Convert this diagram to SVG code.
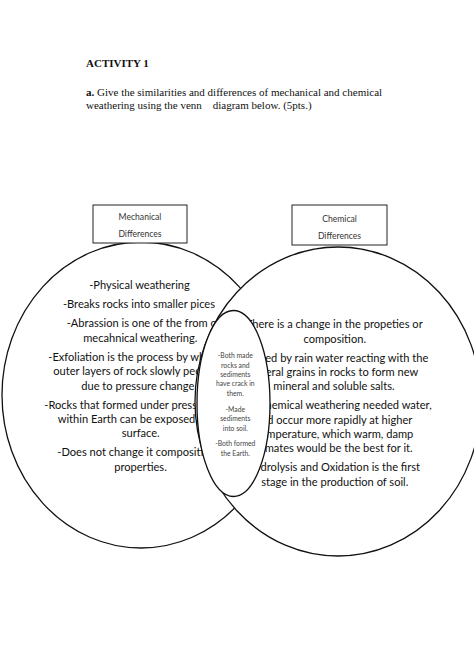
<svg xmlns="http://www.w3.org/2000/svg" width="474" height="670" viewBox="0 0 474 670">
<style>
.hdr{font-family:"Liberation Serif","Times New Roman",serif;font-size:11px;fill:#111}
.b{font-weight:bold}
.box{fill:#fff;stroke:#222;stroke-width:1}
.lbl{font-family:Lato,"Open Sans",sans-serif;font-size:8.6px;fill:#333;text-anchor:middle}
.circ{fill:#fff;stroke:#111;stroke-width:1.3}
.t{font-family:Lato,"Open Sans",sans-serif;font-size:11.1px;fill:#111}
.m{text-anchor:middle}
.e{text-anchor:end}
.s{font-family:Lato,"Open Sans",sans-serif;font-size:6.8px;fill:#444;text-anchor:middle}
</style>
<rect width="474" height="670" fill="#fff"/>
<g id="header">
<text class="hdr b" x="86" y="67">ACTIVITY 1</text>
<text class="hdr" x="86" y="96"><tspan class="b">a.</tspan> Give the similarities and differences of mechanical and chemical</text>
<text class="hdr" x="86" y="109">weathering using the venn<tspan x="212.7">diagram below. (5pts.)</tspan></text>
</g>
<g id="mechanical">
<ellipse class="circ" cx="141" cy="395" rx="139" ry="153"/>
<g class="t">
<text class="m" x="139.5" y="289">-Physical weathering</text>
<text class="m" x="139" y="308">-Breaks rocks into smaller pices</text>
<text x="66.7" y="327">-Abrassion is one of the from of</text>
<text class="m" x="140.3" y="341.7">mecahnical weathering.</text>
<text x="48.3" y="360.7">-Exfoliation is the process by whi</text>
<text x="53.3" y="375">outer layers of rock slowly peel</text>
<text class="m" x="137.8" y="389.7">due to pressure change</text>
<text x="44.3" y="408.7">-Rocks that formed under pressu</text>
<text x="57.7" y="423">within Earth can be exposed to</text>
<text class="m" x="140.7" y="437.3">surface.</text>
<text x="57.3" y="456.3">-Does not change it compositio</text>
<text class="m" x="140.5" y="471">properties.</text>
</g>
</g>
<g id="chemical">
<ellipse class="circ" cx="338" cy="401.5" rx="143" ry="154.5"/>
<g class="t">
<text class="e" x="422.7" y="328.3">-There is a change in the propeties or</text>
<text class="m" x="334.8" y="342.7">composition.</text>
<text class="e" x="428.3" y="361.7">sed by rain water reacting with the</text>
<text class="e" x="418.3" y="376">neral grains in rocks to form new</text>
<text class="m" x="334" y="390.3">mineral and soluble salts.</text>
<text class="e" x="431.7" y="409.3">Chemical weathering needed water,</text>
<text class="e" x="412.3" y="423.7">nd occur more rapidly at higher</text>
<text class="e" x="413.3" y="438">mperature, which warm, damp</text>
<text class="e" x="412.7" y="452.3">imates would be the best for it.</text>
<text class="e" x="420" y="471.3">ydrolysis and Oxidation is the first</text>
<text class="m" x="334.8" y="485.7">stage in the production of soil.</text>
</g>
</g>
<g id="similarities">
<ellipse class="circ" cx="233.5" cy="403.5" rx="36.5" ry="93"/>
<text class="s" x="235.3" y="358">-Both made</text>
<text class="s" x="235.3" y="367.6">rocks and</text>
<text class="s" x="235.3" y="377">sediments</text>
<text class="s" x="235.3" y="386.3">have crack in</text>
<text class="s" x="235.3" y="395.6">them.</text>
<text class="s" x="235.3" y="411.6">-Made</text>
<text class="s" x="235.3" y="421">sediments</text>
<text class="s" x="235.3" y="430.6">into soil.</text>
<text class="s" x="235.3" y="446.3">-Both formed</text>
<text class="s" x="235.3" y="455.6">the Earth.</text>
</g>
<g id="label-mechanical">
<rect class="box" x="93" y="205" width="94" height="38"/>
<text class="lbl" x="140" y="219.7">Mechanical</text>
<text class="lbl" x="140" y="237">Differences</text>
</g>
<g id="label-chemical">
<rect class="box" x="292" y="205" width="95" height="40"/>
<text class="lbl" x="339.5" y="222.3">Chemical</text>
<text class="lbl" x="339.5" y="239">Differences</text>
</g>
<g id="connectors"/>
</svg>
